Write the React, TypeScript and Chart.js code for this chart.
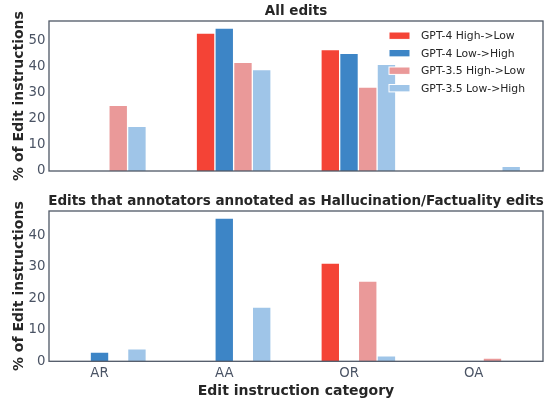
import React, { useEffect, useRef } from 'react';
import { Chart, registerables } from 'chart.js';

Chart.register(...registerables);
Chart.defaults.font.family = '"DejaVu Sans", sans-serif';

// ---------- data ----------
const categories = ['AR', 'AA', 'OR', 'OA'];
const seriesNames = ['GPT-4 High->Low', 'GPT-4 Low->High', 'GPT-3.5 High->Low', 'GPT-3.5 Low->High'];

// Panel 1: All edits (% of edit instructions)
const allGpt4HighLow = [0, 52.7, 46.4, 0];
const allGpt4LowHigh = [0, 54.6, 45.0, 0];
const allGpt35HighLow = [25.1, 41.5, 32.1, 0];
const allGpt35LowHigh = [17.1, 38.8, 40.8, 1.8];

// Panel 2: Hallucination/Factuality edits
const halGpt4HighLow = [0, 0, 31.2, 0];
const halGpt4LowHigh = [2.9, 45.5, 0, 0];
const halGpt35HighLow = [0, 0, 25.5, 1.0];
const halGpt35LowHigh = [4.0, 17.2, 1.7, 0];

const topYTicks = [0, 10, 20, 30, 40, 50];
const bottomYTicks = [0, 10, 20, 30, 40];

const topTitle = 'All edits';
const bottomTitle = 'Edits that annotators annotated as Hallucination/Factuality edits';
const yAxisLabel = '% of Edit instructions';
const xAxisLabel = 'Edit instruction category';

// ---------- styles ----------
const COLORS = ['#f44336', '#3d85c6', '#ea9999', '#9fc5e8'];
const BAR_OFFSETS = [-0.15, 0, 0.15, 0.3];
const X_MIN = -0.405;
const X_MAX = 3.555;
const TICK_COLOR = '#4a5364';
const TEXT_COLOR = '#262626';
const FRAME_COLOR = '#4f5866';
const FONT = '"DejaVu Sans", sans-serif';

const panelDecor = {
  id: 'panelDecor',
  afterDraw(chart: any, _args: any, opts: any) {
    const { ctx, chartArea: a } = chart;
    ctx.save();
    // frame
    ctx.strokeStyle = FRAME_COLOR;
    ctx.lineWidth = 1.3;
    ctx.strokeRect(a.left, a.top, a.right - a.left, a.bottom - a.top);

    // title
    ctx.fillStyle = TEXT_COLOR;
    ctx.font = `bold 13.5px ${FONT}`;
    ctx.textAlign = 'center';
    ctx.textBaseline = 'alphabetic';
    ctx.fillText(opts.title, (a.left + a.right) / 2, a.top - 6.5);

    // x label
    if (opts.xLabel) {
      ctx.font = `bold 14px ${FONT}`;
      ctx.fillText(opts.xLabel, (a.left + a.right) / 2, a.bottom + 33.7);
    }

    // y label
    ctx.save();
    ctx.font = `bold 14px ${FONT}`;
    ctx.translate(22.5, (a.top + a.bottom) / 2);
    ctx.rotate(-Math.PI / 2);
    ctx.textAlign = 'center';
    ctx.fillText(opts.yLabel, 0, 0);
    ctx.restore();

    // legend
    if (opts.legend) {
      const sx = a.right - 154;
      ctx.font = `10.8px ${FONT}`;
      ctx.textAlign = 'left';
      ctx.textBaseline = 'middle';
      chart.data.datasets.forEach((ds: any, i: number) => {
        const cy = a.top + 14.7 + i * 17.5;
        ctx.fillStyle = ds.backgroundColor;
        ctx.fillRect(sx, cy - 3.7, 21, 7.4);
        ctx.strokeStyle = '#ffffff';
        ctx.lineWidth = 1;
        ctx.strokeRect(sx, cy - 3.7, 21, 7.4);
        ctx.fillStyle = TEXT_COLOR;
        ctx.fillText(ds.label, sx + 32, cy + 0.5);
      });
    }
    ctx.restore();
  },
};

type PanelProps = {
  series: number[][];
  yTicks: number[];
  title: string;
  height: number;
  padTop: number;
  xAxisHeight: number;
  showXLabels: boolean;
  legend: boolean;
  xLabel?: string;
};

function Panel(p: PanelProps) {
  const ref = useRef<HTMLCanvasElement>(null);
  useEffect(() => {
    const yMax = Math.max(...p.series.flat()) * 1.05;
    const chart = new Chart(ref.current as HTMLCanvasElement, {
      type: 'bar',
      data: {
        datasets: p.series.map((vals, si) => ({
          label: seriesNames[si],
          data: vals.map((v, ci) => ({ x: ci + BAR_OFFSETS[si], y: v })),
          backgroundColor: COLORS[si],
          borderColor: '#ffffff',
          borderWidth: 1,
          grouped: false,
          barPercentage: 1,
          categoryPercentage: 1,
        })),
      } as any,
      options: {
        responsive: false,
        animation: false,
        events: [],
        layout: { padding: { top: p.padTop, right: 16, left: 0, bottom: 0 } },
        plugins: {
          legend: { display: false },
          title: { display: false },
          tooltip: { enabled: false },
          panelDecor: { title: p.title, yLabel: yAxisLabel, xLabel: p.xLabel, legend: p.legend },
        } as any,
        scales: {
          x: {
            type: 'linear',
            offset: false,
            min: X_MIN,
            max: X_MAX,
            grid: { display: false, drawTicks: false, offset: false },
            border: { display: false },
            ticks: {
              display: p.showXLabels,
              padding: 4,
              color: TICK_COLOR,
              font: { size: 13.3 },
              maxRotation: 0,
              autoSkip: false,
              callback: (v: any) => categories[v] ?? '',
            },
            afterBuildTicks: (s: any) => {
              s.ticks = categories.map((_, i) => ({ value: i }));
            },
            afterFit: (s: any) => {
              s.height = p.xAxisHeight;
            },
          },
          y: {
            type: 'linear',
            min: 0,
            max: yMax,
            grid: { display: false, drawTicks: false },
            border: { display: false },
            ticks: {
              padding: 3.5,
              color: TICK_COLOR,
              font: { size: 13.3 },
              callback: (v: any) => String(v),
            },
            afterBuildTicks: (s: any) => {
              s.ticks = p.yTicks.map((v) => ({ value: v }));
            },
            afterFit: (s: any) => {
              s.width = 49;
            },
          },
        } as any,
      },
      plugins: [panelDecor],
    });
    return () => chart.destroy();
  }, []);
  return (
    <canvas
      ref={ref}
      width={559}
      height={p.height}
      style={{ display: 'block', width: 559, height: p.height }}
    />
  );
}

export default function App() {
  return (
    <div style={{ position: 'absolute', left: 0, top: 0, width: 559, height: 400, background: '#ffffff' }}>
      <Panel
        series={[allGpt4HighLow, allGpt4LowHigh, allGpt35HighLow, allGpt35LowHigh]}
        yTicks={topYTicks}
        title={topTitle}
        height={185}
        padTop={21}
        xAxisHeight={14}
        showXLabels={false}
        legend={true}
      />
      <Panel
        series={[halGpt4HighLow, halGpt4LowHigh, halGpt35HighLow, halGpt35LowHigh]}
        yTicks={bottomYTicks}
        title={bottomTitle}
        height={215}
        padTop={26}
        xAxisHeight={38.7}
        showXLabels={true}
        legend={false}
        xLabel={xAxisLabel}
      />
    </div>
  );
}
